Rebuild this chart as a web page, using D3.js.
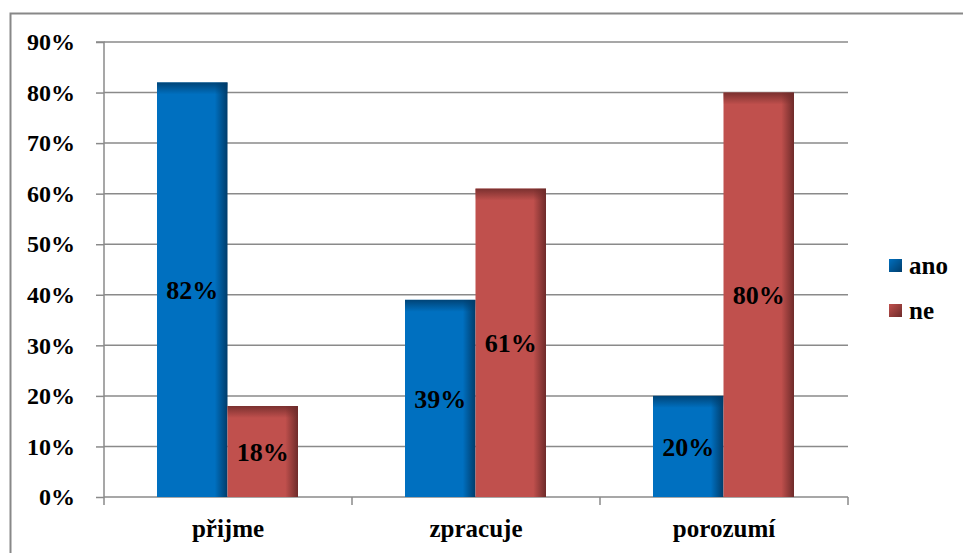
<!DOCTYPE html>
<html>
<head>
<meta charset="utf-8">
<script src="https://cdn.jsdelivr.net/npm/d3@7"></script>
<style>
  html, body { margin: 0; padding: 0; background: #fff; }
  svg { display: block; }
</style>
</head>
<body>
<svg id="chart" width="963" height="553"></svg>
<script>
// Answers per statement
const categories = ["přijme", "zpracuje", "porozumí"];
const seriesNames = ["ano", "ne"];
const anoValues = [0.82, 0.39, 0.20];
const neValues = [0.18, 0.61, 0.80];
const yTicks = [0, 0.1, 0.2, 0.3, 0.4, 0.5, 0.6, 0.7, 0.8, 0.9];
const seriesColors = ["#0070c0", "#c0504d"];
const seriesDark = ["#003c6a", "#6e2b2a"];

const FONT = '"Liberation Serif"';

const svg = d3.select("#chart");
const W = 963, H = 553;

// Outer frame
svg.append("rect")
  .attr("x", 10.5).attr("y", 13.5)
  .attr("width", W + 20).attr("height", H + 20)
  .attr("fill", "none").attr("stroke", "#888").attr("stroke-width", 2);

const plot = { left: 104, right: 848, top: 42, bottom: 497 };

const y = d3.scaleLinear().domain([0, 0.9]).range([plot.bottom, plot.top]);
const x0 = d3.scaleBand().domain(categories).range([plot.left, plot.right]).paddingInner(0).paddingOuter(0);
const x1 = d3.scaleBand().domain(seriesNames).range([53, 53 + 141]);

const defs = svg.append("defs");
seriesNames.forEach((s, i) => {
  const gh = defs.append("linearGradient").attr("id", "h" + i)
    .attr("x1", "0").attr("x2", "1").attr("y1", "0").attr("y2", "0");
  gh.append("stop").attr("offset", "0").attr("stop-color", seriesColors[i]);
  gh.append("stop").attr("offset", "0.82").attr("stop-color", seriesColors[i]);
  gh.append("stop").attr("offset", "1").attr("stop-color", seriesDark[i]);
  const gv = defs.append("linearGradient").attr("id", "v" + i)
    .attr("x1", "0").attr("x2", "0").attr("y1", "0").attr("y2", "1");
  gv.append("stop").attr("offset", "0").attr("stop-color", seriesDark[i]).attr("stop-opacity", 0.85);
  gv.append("stop").attr("offset", "1").attr("stop-color", seriesDark[i]).attr("stop-opacity", 0);
  const gl = defs.append("linearGradient").attr("id", "l" + i)
    .attr("x1", "0").attr("x2", "1").attr("y1", "0").attr("y2", "1");
  gl.append("stop").attr("offset", "0").attr("stop-color", seriesColors[i]);
  gl.append("stop").attr("offset", "1").attr("stop-color", seriesDark[i]);
});

// Gridlines
svg.append("g").selectAll("line").data(yTicks.slice(1)).join("line")
  .attr("x1", plot.left).attr("x2", plot.right)
  .attr("y1", d => y(d)).attr("y2", d => y(d))
  .attr("stroke", "#8a8a8a").attr("stroke-width", 1.5);

function styleText(sel, size) {
  sel.attr("font-size", size).attr("fill", "#000")
    .style("font-family", FONT).style("font-weight", "bold");
}

// Y axis
const yAxis = d3.axisLeft(y).tickValues(yTicks).tickSize(8).tickPadding(21)
  .tickFormat(d => Math.round(d * 100) + "%");
const yg = svg.append("g").attr("transform", `translate(${plot.left},0)`).call(yAxis)
  .style("font-family", FONT);
yg.select(".domain").attr("stroke", "#8a8a8a").attr("stroke-width", 1.5).attr("d", `M-8,${plot.top}H0V${plot.bottom}`);
yg.selectAll(".tick line").attr("stroke", "#8a8a8a").attr("stroke-width", 1.5);
yg.selectAll(".tick text").call(styleText, 24);

// X axis
const xAxis = d3.axisBottom(x0).tickSize(0).tickPadding(22);
const xg = svg.append("g").attr("transform", `translate(0,${plot.bottom})`).call(xAxis)
  .style("font-family", FONT);
xg.select(".domain").attr("stroke", "#8a8a8a").attr("stroke-width", 1.5)
  .attr("d", `M${plot.left},0H${plot.right}`);
xg.selectAll(".tick text").call(styleText, 25);
xg.append("g").selectAll("line")
  .data(categories.map(c => x0(c)).concat([plot.right]))
  .join("line")
  .attr("x1", d => d).attr("x2", d => d).attr("y1", 0).attr("y2", 8)
  .attr("stroke", "#8a8a8a").attr("stroke-width", 1.5);

// Bars
const rows = categories.map((c, i) => ({ cat: c, vals: [anoValues[i], neValues[i]] }));
const groups = svg.append("g").selectAll("g").data(rows).join("g")
  .attr("transform", d => `translate(${x0(d.cat)},0)`);

const bars = groups.selectAll("g.bar")
  .data(d => d.vals.map((v, i) => ({ v, i, s: seriesNames[i] })))
  .join("g").attr("class", "bar");

bars.append("rect")
  .attr("x", d => x1(d.s)).attr("y", d => y(d.v))
  .attr("width", x1.bandwidth()).attr("height", d => plot.bottom - y(d.v))
  .attr("fill", d => `url(#h${d.i})`);
bars.append("rect")
  .attr("x", d => x1(d.s)).attr("y", d => y(d.v))
  .attr("width", x1.bandwidth()).attr("height", d => Math.min(12, plot.bottom - y(d.v)))
  .attr("fill", d => `url(#v${d.i})`);

bars.append("text")
  .attr("x", d => x1(d.s) + x1.bandwidth() / 2)
  .attr("y", d => (y(d.v) + plot.bottom) / 2)
  .attr("dy", "0.35em")
  .attr("text-anchor", "middle")
  .call(styleText, 26)
  .text(d => Math.round(d.v * 100) + "%");

// Legend
const legend = svg.append("g").attr("transform", "translate(889,259)");
const items = legend.selectAll("g").data(seriesNames).join("g")
  .attr("transform", (d, i) => `translate(0,${i * 45})`);
items.append("rect").attr("width", 13).attr("height", 13)
  .attr("fill", (d, i) => `url(#l${i})`);
items.append("text").attr("x", 20).attr("y", 6.5).attr("dy", "0.35em")
  .call(styleText, 25).text(d => d);
</script>
</body>
</html>
